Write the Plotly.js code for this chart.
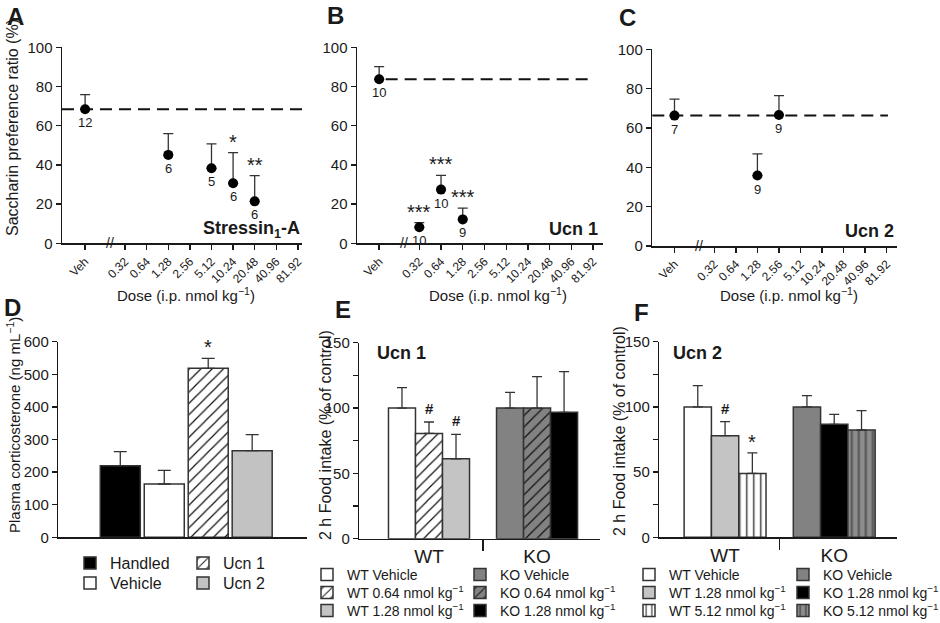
<!DOCTYPE html>
<html><head><meta charset="utf-8">
<script src="https://cdn.plot.ly/plotly-3.0.1.min.js"></script>
<style>html,body{margin:0;padding:0;background:#fff}#chart{width:940px;height:623px}</style>
</head><body><div id="chart"></div>
<script>
// ---------------- data ----------------
var doseLabels = ['0.32','0.64','1.28','2.56','5.12','10.24','20.48','40.96','81.92'];
var vehLabel = 'Veh';

// Panel A: Stressin1-A
var aDose = ['Veh','1.28','5.12','10.24','20.48'];
var aMean = [68.4, 45.1, 38.3, 30.6, 21.4];
var aTop  = [75.9, 56.0, 50.7, 46.3, 34.5];
var aN    = [12, 6, 5, 6, 6];
var aSig  = ['', '', '', '*', '**'];

// Panel B: Ucn 1
var bDose = ['Veh','0.32','0.64','1.28'];
var bMean = [83.7, 8.2, 27.4, 12.2];
var bTop  = [90.1, 10.5, 34.7, 17.9];
var bN    = [10, 10, 10, 9];
var bSig  = ['', '***', '***', '***'];

// Panel C: Ucn 2
var cDose = ['Veh','1.28','2.56'];
var cMean = [66.3, 35.8, 66.6];
var cTop  = [74.7, 46.8, 76.4];
var cN    = [7, 9, 9];
var cSig  = ['', '', ''];

// Panel D: plasma corticosterone
var dGroups = ['Handled','Vehicle','Ucn 1','Ucn 2'];
var dMean = [219.8, 163.5, 518.2, 265.8];
var dTop  = [262.7, 205.5, 548.9, 314.8];
var dSig  = ['', '', '*', ''];

// Panel E: Ucn 1 food intake
var genotypes = ['WT','KO'];
var eTreat = ['Vehicle','0.64 nmol kg<sup>−1</sup>','1.28 nmol kg<sup>−1</sup>'];
var eWT    = [100, 80.6, 61.2];
var eWTTop = [115.6, 89.3, 79.8];
var eWTSig = ['', '#', '#'];
var eKO    = [100, 100, 96.7];
var eKOTop = [112, 124, 127.8];
var eKOSig = ['', '', ''];

// Panel F: Ucn 2 food intake
var fTreat = ['Vehicle','1.28 nmol kg<sup>−1</sup>','5.12 nmol kg<sup>−1</sup>'];
var fWT    = [100, 77.9, 49];
var fWTTop = [116.3, 88.7, 64.7];
var fWTSig = ['', '#', '*'];
var fKO    = [100, 86.6, 82.3];
var fKOTop = [108.6, 94.3, 97.1];
var fKOSig = ['', '', ''];

// ---------------- layout helpers ----------------
var FONT = 'Liberation Sans, Arial, Helvetica, sans-serif';
var INK = '#1a1a1a';
var W = 940, H = 623;
function fx(px){ return px / W; }
function fy(py){ return 1 - py / H; }
var VEH_POS = -1.85;

function axId(k){ return k === 1 ? '' : String(k); }
function xBase(px0, px1, range){
  return {domain:[fx(px0), fx(px1)], range:range, showline:true, linecolor:INK, linewidth:1.5,
    showgrid:false, zeroline:false, ticks:'outside', ticklen:5, tickwidth:1.3, tickcolor:INK,
    tickfont:{size:12, color:INK, family:FONT}, fixedrange:true, automargin:false};
}
function yBase(py0, py1, range, dtick){
  return {domain:[fy(py1), fy(py0)], range:range, dtick:dtick, showline:true, linecolor:INK, linewidth:1.5,
    showgrid:false, zeroline:false, ticks:'outside', ticklen:5, tickwidth:1.3, tickcolor:INK,
    tickfont:{size:15, color:INK, family:FONT}, fixedrange:true, automargin:false};
}
function dosePos(lbl){ return lbl === vehLabel ? VEH_POS : doseLabels.indexOf(lbl); }

var traces = [];
var annotations = [];
var shapes = [];
var legends = {};
var legendCount = 0;
// one single-entry legend per bar trace, placed at (text start x, row centre y)
function makeLegend(textX, rowY, size){
  legendCount++;
  var id = legendCount === 1 ? 'legend' : 'legend' + legendCount;
  legends[id] = {x:fx(textX - 40), y:fy(rowY), xanchor:'left', yanchor:'middle',
    font:{size:size, family:FONT, color:INK}, bgcolor:'rgba(0,0,0,0)'};
  return id;
}

function errUp(mean, top){
  return {type:'data', symmetric:false, array: top.map(function(t,i){ return t - mean[i]; }),
    arrayminus: mean.map(function(){ return 0; }), width:5, thickness:1.3, color:'#333'};
}
function sigAnn(k, x, y, s){
  if(!s) return;
  var hash = s.indexOf('#') >= 0;
  annotations.push({xref:'x'+axId(k), yref:'y'+axId(k), x:x, y:y, text:s, showarrow:false,
    yanchor:'bottom', yshift: hash ? 3 : -2,
    font:{size: hash ? 15 : 20, color:INK, family:FONT, weight: hash ? 'bold' : 'normal'}});
}

// ---------- dose-response panels A, B, C ----------
function dosePanel(k, dose, mean, top, n, sig){
  var xs = dose.map(dosePos);
  traces.push({type:'scatter', mode:'markers', xaxis:'x'+axId(k), yaxis:'y'+axId(k),
    x: xs, y: mean, marker:{size:10, color:'#000'}, showlegend:false, hoverinfo:'skip',
    error_y: errUp(mean, top)});
  xs.forEach(function(x, i){
    annotations.push({xref:'x'+axId(k), yref:'y'+axId(k), x:x, y:mean[i], text:String(n[i]),
      showarrow:false, yanchor:'top', yshift:-4, font:{size:13, color:INK, family:FONT}});
    sigAnn(k, x, top[i], sig[i]);
  });
  var vi = dose.indexOf(vehLabel);
  return mean[vi];
}
var doseTickVals = [VEH_POS].concat(doseLabels.map(function(d,i){ return i; }));
var doseTickText = [vehLabel].concat(doseLabels);

var vA = dosePanel(1, aDose, aMean, aTop, aN, aSig);
var vB = dosePanel(2, bDose, bMean, bTop, bN, bSig);
var vC = dosePanel(3, cDose, cMean, cTop, cN, cSig);
var dashLine = {color:'#111', width:2, dash:'12px,7px'};
shapes.push({type:'line', xref:'x domain', yref:'y', x0:0, x1:1, y0:vA, y1:vA, line:dashLine, layer:'below'});
shapes.push({type:'line', xref:'x2', yref:'y2', x0:VEH_POS + 0.3, x1:8, y0:vB, y1:vB, line:dashLine, layer:'below'});
shapes.push({type:'line', xref:'x3 domain', yref:'y3', x0:0, x1:0.963, y0:vC, y1:vC, line:dashLine, layer:'below'});

// ---------- Panel D ----------
var dStyles = [
  {color:'#000000'},
  {color:'#ffffff'},
  {color:'#ffffff', pattern:{shape:'/', bgcolor:'#ffffff', fgcolor:'#111', size:8, solidity:0.15}},
  {color:'#c2c2c2'}
];
var dLegCols = [110, 223], dLegRows = [563, 583];
dGroups.forEach(function(g, i){
  var m = Object.assign({line:{color:'#333', width:1.5}}, dStyles[i]);
  var leg = makeLegend(dLegCols[Math.floor(i/2)], dLegRows[i%2], 16);
  traces.push({type:'bar', xaxis:'x4', yaxis:'y4', x:[g], y:[dMean[i]], width:0.91, name:g,
    legend: leg, marker:m, hoverinfo:'skip',
    error_y:{type:'data', symmetric:false, array:[dTop[i]-dMean[i]], arrayminus:[0], width:6.5, thickness:1.3, color:'#333'}});
  sigAnn(4, g, dTop[i], dSig[i]);
});

// ---------- Panels E, F ----------
function foodPanel(k, treat, vals, tops, sigs, styles, cols, rows){
  genotypes.forEach(function(g, gi){
    treat.forEach(function(t, i){
      var x = gi * 4 + i;
      var m = Object.assign({line:{color:'#333', width:1.5}}, styles[gi][i]);
      var leg = makeLegend(cols[gi], rows[i], 14);
      traces.push({type:'bar', xaxis:'x'+axId(k), yaxis:'y'+axId(k), x:[x], y:[vals[gi][i]], width:1,
        name: g + ' ' + t, legend: leg, marker:m, hoverinfo:'skip',
        error_y:{type:'data', symmetric:false, array:[tops[gi][i]-vals[gi][i]], arrayminus:[0], width:5, thickness:1.3, color:'#333'}});
      sigAnn(k, x, tops[gi][i], sigs[gi][i]);
    });
  });
}
var eStyles = [
  [{color:'#ffffff'},
   {color:'#ffffff', pattern:{shape:'/', bgcolor:'#ffffff', fgcolor:'#111', size:8, solidity:0.15}},
   {color:'#c4c4c4'}],
  [{color:'#828282'},
   {color:'#828282', pattern:{shape:'/', bgcolor:'#828282', fgcolor:'#111', size:8, solidity:0.15}},
   {color:'#000000'}]
];
var fStyles = [
  [{color:'#ffffff'},
   {color:'#c4c4c4'},
   {color:'#ffffff', pattern:{shape:'|', bgcolor:'#ffffff', fgcolor:'#333', size:7, solidity:0.2}}],
  [{color:'#828282'},
   {color:'#000000'},
   {color:'#8c8c8c', pattern:{shape:'|', bgcolor:'#8c8c8c', fgcolor:'#555', size:7, solidity:0.3}}]
];
var legRows = [575, 593, 611];
foodPanel(5, eTreat, [eWT, eKO], [eWTTop, eKOTop], [eWTSig, eKOSig], eStyles, [347, 500], legRows);
foodPanel(6, fTreat, [fWT, fKO], [fWTTop, fKOTop], [fWTSig, fKOSig], fStyles, [669, 823], legRows);

// ---------- text annotations ----------
function paperText(px, py, text, size, opts){
  var a = {xref:'paper', yref:'paper', x:fx(px), y:fy(py), text:text, showarrow:false,
    font:{size:size, color:INK, family:FONT}, xanchor:'center', yanchor:'middle'};
  for (var key in (opts||{})) {
    if (key === 'weight') a.font.weight = opts[key]; else a[key] = opts[key];
  }
  annotations.push(a);
}
// panel letters
paperText(5, 16, 'A', 24, {xanchor:'left', weight:'bold'});
paperText(325, 15, 'B', 24, {xanchor:'left', weight:'bold'});
paperText(617, 17, 'C', 24, {xanchor:'left', weight:'bold'});
paperText(2, 307, 'D', 24, {xanchor:'left', weight:'bold'});
paperText(333, 309, 'E', 24, {xanchor:'left', weight:'bold'});
paperText(632, 312, 'F', 24, {xanchor:'left', weight:'bold'});
// in-panel titles
paperText(302, 230, 'Stressin<sub>1</sub>-A', 18, {xanchor:'right', weight:'bold'});
paperText(600, 229, 'Ucn 1', 18, {xanchor:'right', weight:'bold'});
paperText(896, 231, 'Ucn 2', 18, {xanchor:'right', weight:'bold'});
paperText(375, 353, 'Ucn 1', 18, {xanchor:'left', weight:'bold'});
paperText(671, 353, 'Ucn 2', 18, {xanchor:'left', weight:'bold'});
// axis titles
var doseTitle = 'Dose (i.p. nmol kg<sup>−1</sup>)';
paperText(186, 294, doseTitle, 15);
paperText(498, 294, doseTitle, 15);
paperText(789, 295, doseTitle, 15);
paperText(12, 128, 'Saccharin preference ratio (%)', 16, {textangle:-90});
paperText(13, 425, 'Plasma corticosterone (ng mL<sup>−1</sup>)', 15, {textangle:-90});
paperText(325, 435, '2 h Food intake (% of control)', 16, {textangle:-90});
paperText(619, 431, '2 h Food intake (% of control)', 16, {textangle:-90});
// axis breaks
[1,2,3].forEach(function(k){
  annotations.push({xref:'x'+axId(k), yref:'y'+axId(k), x:-0.7, y:0, text:'//', showarrow:false,
    font:{size:14, color:INK, family:FONT}, yanchor:'middle'});
});

// ---------- layout ----------
var layout = {
  width:W, height:H, margin:{l:0, r:0, t:0, b:0, autoexpand:false}, paper_bgcolor:'#fff', plot_bgcolor:'#fff',
  font:{family:FONT, color:INK}, barmode:'overlay',
  xaxis:  Object.assign(xBase(62, 302, [-2.92, 8.19]),   {anchor:'y',  tickmode:'array', tickvals:doseTickVals, ticktext:doseTickText, tickangle:-45}),
  yaxis:  Object.assign(yBase(47.3, 243.3, [0,100], 20), {anchor:'x'}),
  xaxis2: Object.assign(xBase(357, 603, [-2.87, 8.46]),  {anchor:'y2', tickmode:'array', tickvals:doseTickVals, ticktext:doseTickText, tickangle:-45}),
  yaxis2: Object.assign(yBase(47.3, 243.3, [0,100], 20), {anchor:'x2'}),
  xaxis3: Object.assign(xBase(652.3, 897, [-2.88, 8.48]),{anchor:'y3', tickmode:'array', tickvals:doseTickVals, ticktext:doseTickText, tickangle:-45}),
  yaxis3: Object.assign(yBase(49.3, 246, [0,100], 20),   {anchor:'x3'}),
  xaxis4: Object.assign(xBase(58.3, 306.7, [-1.41, 4.24]), {anchor:'y4', type:'category', ticks:'', showticklabels:false}),
  yaxis4: Object.assign(yBase(341.7, 537.3, [0,600], 100), {anchor:'x4'}),
  xaxis5: Object.assign(xBase(359.3, 600, [-1.58, 7.33]), {anchor:'y5', tickmode:'array', tickvals:[1,5], ticktext:genotypes, ticks:'',
           tickfont:{size:19, color:INK, family:FONT}, minor:{tickmode:'array', tickvals:[3], ticks:'outside', ticklen:11, tickwidth:1.3, tickcolor:INK}}),
  yaxis5: Object.assign(yBase(342.7, 538.7, [0,150], 50), {anchor:'x5', minor:{dtick:25, ticks:'outside', ticklen:5, tickwidth:1.3, tickcolor:INK}}),
  xaxis6: Object.assign(xBase(659.3, 897, [-1.41, 7.30]), {anchor:'y6', tickmode:'array', tickvals:[1,5], ticktext:genotypes, ticks:'',
           tickfont:{size:19, color:INK, family:FONT}, minor:{tickmode:'array', tickvals:[3], ticks:'outside', ticklen:11, tickwidth:1.3, tickcolor:INK}}),
  yaxis6: Object.assign(yBase(341.7, 537.3, [0,150], 50), {anchor:'x6', minor:{dtick:25, ticks:'outside', ticklen:5, tickwidth:1.3, tickcolor:INK}}),
  annotations: annotations,
  shapes: shapes,
  showlegend: true
};
Object.keys(legends).forEach(function(id){ layout[id] = legends[id]; });

Plotly.newPlot('chart', traces, layout, {staticPlot:true, displayModeBar:false});
</script>
</body></html>
